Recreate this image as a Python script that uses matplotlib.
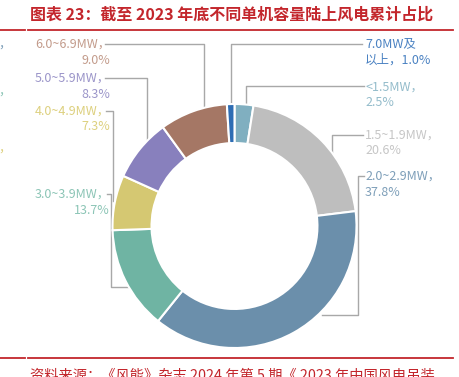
import numpy as np
import matplotlib
matplotlib.use("Agg")
import matplotlib.pyplot as plt

plt.rcParams['font.family'] = ['Noto Sans CJK SC', 'DejaVu Sans']

# data, clockwise from 12 o'clock
categories = ["<1.5MW", "1.5~1.9MW", "2.0~2.9MW", "3.0~3.9MW",
              "4.0~4.9MW", "5.0~5.9MW", "6.0~6.9MW", "7.0MW及以上"]
shares = [2.5, 20.6, 37.8, 13.7, 7.3, 8.3, 9.0, 1.0]
slice_colors = ["#80afc0", "#bebebe", "#6b8fab", "#6fb4a3",
                "#d5c872", "#8880bd", "#a57765", "#2e6db4"]
text_colors = ["#94bccb", "#c6c6c6", "#7e9fb9", "#8cc5b6",
               "#ddd07e", "#9b95c9", "#c39c8c", "#4b82c2"]

title = "图表 23：截至 2023 年底不同单机容量陆上风电累计占比"
source = "资料来源：《风能》杂志 2024 年第 5 期《 2023 年中国风电吊装"
red = "#c3262c"

W, H = 459, 377
fig = plt.figure(figsize=(W / 100, H / 100), dpi=100)

# overlay in pixel coordinates for title, rules, labels, leader lines
ov = fig.add_axes([0, 0, 1, 1])
ov.set_xlim(0, W)
ov.set_ylim(H, 0)
ov.axis("off")

# donut geometry (pixels)
cx, cy, R = 234.5, 226.0, 122.0
ax = fig.add_axes([(cx - R) / W, (H - cy - R) / H, 2 * R / W, 2 * R / H])
ax.pie(shares, colors=slice_colors, startangle=90, counterclock=False,
       radius=1.0, wedgeprops=dict(width=0.32, edgecolor="white", linewidth=1.5))
ax.set_xlim(-1, 1)
ax.set_ylim(-1, 1)
ax.set_aspect("equal")
ax.axis("off")

# title and rules
ov.text(30, 15, title, color=red, fontsize=11.5, fontweight="bold",
        ha="left", va="center")
for y in (29.5, 358):
    ov.plot([0, 25], [y, y], color=red, lw=1.3)
    ov.plot([28, 453], [y, y], color=red, lw=1.3)
ov.text(30, 375, source, color=red, fontsize=10.3, ha="left", va="center")

# fragments of the neighbouring column at the left edge
for y, c in zip((44, 91, 148), ("#7e9fb9", "#8cc5b6", "#ddd07e")):
    ov.text(-2, y, "，", color=c, fontsize=9, ha="left", va="center")


def ring_y(x):
    return cy - np.sqrt(R ** 2 - (x - cx) ** 2)


def ring_x(y, side):
    return cx + side * np.sqrt(R ** 2 - (y - cy) ** 2)


line_kw = dict(color="#a8a8a8", lw=1.0)

# right-hand labels: (index, first line, second line, y of first line)
right_labels = [
    (7, "7.0MW及", "以上，%.1f%%" % shares[7], 44),
    (0, "<1.5MW，", "%.1f%%" % shares[0], 87),
    (1, "1.5~1.9MW，", "%.1f%%" % shares[1], 135),
    (2, "2.0~2.9MW，", "%.1f%%" % shares[2], 176),
]
for i, l1, l2, y in right_labels:
    ov.text(365, y, l1, color=text_colors[i], fontsize=9, ha="left", va="center")
    ov.text(365, y + 16, l2, color=text_colors[i], fontsize=9, ha="left", va="center")

left_labels = [
    (6, 44), (5, 78), (4, 111), (3, 194),
]
for i, y in left_labels:
    ov.text(110, y, categories[i] + "，", color=text_colors[i], fontsize=9,
            ha="right", va="center")
    ov.text(110, y + 16, "%.1f%%" % shares[i], color=text_colors[i], fontsize=9,
            ha="right", va="center")

# leader lines
ov.plot([362, 231, 231], [44, 44, ring_y(231)], **line_kw)          # 7.0MW+
ov.plot([364, 245.5, 245.5], [86, 86, ring_y(245.5)], **line_kw)    # <1.5
ov.plot([363, 331.5, 331.5], [135, 135, ring_y(331.5)], **line_kw)  # 1.5~1.9
ov.plot([364, 357.5, 357.5, 321.5], [176, 176, 315, 315], **line_kw)  # 2.0~2.9
ov.plot([105, 204, 204], [44, 44, ring_y(204)], **line_kw)          # 6.0~6.9
ov.plot([105, 147, 147], [78, 78, ring_y(147)], **line_kw)          # 5.0~5.9
ov.plot([106, 113, 113], [111, 111, 201], **line_kw)                # 4.0~4.9
ov.plot([107, 110.5, 110.5, ring_x(287, -1)], [194, 194, 287, 287], **line_kw)  # 3.0~3.9

fig.savefig("out.png", dpi=100)
